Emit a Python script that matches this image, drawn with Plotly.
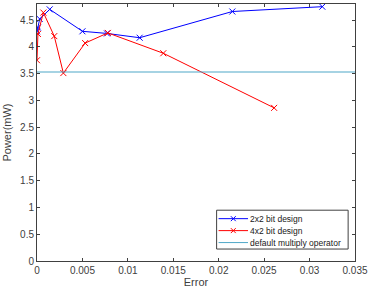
import plotly.graph_objects as go

# 2x2 bit design
err_2x2 = [0.0, 0.0001, 0.0003, 0.0014, 0.0050, 0.0077, 0.0113, 0.0215, 0.0314]
pow_2x2 = [4.29, 4.36, 4.52, 4.70, 4.29, 4.25, 4.17, 4.66, 4.75]

# 4x2 bit design
err_4x2 = [0.0, 0.0001, 0.0007, 0.0019, 0.0029, 0.0053, 0.0078, 0.0139, 0.0261]
pow_4x2 = [3.75, 4.24, 4.64, 4.20, 3.51, 4.07, 4.26, 3.88, 2.86]

# default multiply operator
default_power = 3.53
x_range = [0, 0.035]
y_range = [0, 4.8]

x_ticks = [0, 0.005, 0.01, 0.015, 0.02, 0.025, 0.03, 0.035]
x_tick_text = ["0", "0.005", "0.01", "0.015", "0.02", "0.025", "0.03", "0.035"]
y_ticks = [0, 0.5, 1, 1.5, 2, 2.5, 3, 3.5, 4, 4.5]
y_tick_text = ["0", "0.5", "1", "1.5", "2", "2.5", "3", "3.5", "4", "4.5"]

series_names = ["2x2 bit design", "4x2 bit design", "default multiply operator"]
series_colors = ["#0000ff", "#ff0000", "#4fa8c8"]

W, H = 371, 291
ML, MR, MT, MB = 37, 10, 3, 30
PW, PH = W - ML - MR, H - MT - MB

FONT = "Liberation Sans, Arial"

fig = go.Figure()
fig.add_trace(go.Scatter(
    x=err_2x2, y=pow_2x2, mode="lines+markers", name=series_names[0],
    line=dict(color=series_colors[0], width=1),
    marker=dict(symbol="x-thin", size=6, line=dict(color=series_colors[0], width=1)),
))
fig.add_trace(go.Scatter(
    x=err_4x2, y=pow_4x2, mode="lines+markers", name=series_names[1],
    line=dict(color=series_colors[1], width=1),
    marker=dict(symbol="x-thin", size=6, line=dict(color=series_colors[1], width=1)),
))
fig.add_trace(go.Scatter(
    x=x_range, y=[default_power, default_power], mode="lines",
    name=series_names[2],
    line=dict(color=series_colors[2], width=1.2),
))

axis_common = dict(
    showgrid=False, zeroline=False, ticks="inside", ticklen=3,
    tickcolor="#404040", showline=True, linecolor="#404040", linewidth=1,
    mirror="ticks", tickfont=dict(family=FONT, size=10, color="#404040"),
)
fig.update_xaxes(range=x_range, tickvals=x_ticks, ticktext=x_tick_text,
                 ticklabeloverflow="allow",
                 title=dict(text="Error", font=dict(family=FONT, size=11, color="#404040"), standoff=3),
                 **axis_common)
fig.update_yaxes(range=y_range, tickvals=y_ticks, ticktext=y_tick_text,
                 title=dict(text="Power(mW)", font=dict(family=FONT, size=11, color="#404040"), standoff=6),
                 **axis_common)

# Manual MATLAB-style legend (in axis-domain coordinates)
def fx(px):
    return (px - ML) / PW

def fy(py):
    return (MT + PH - py) / PH

box = dict(x0=fx(220), x1=fx(354), y0=fy(249), y1=fy(210))
fig.add_shape(type="rect", xref="x domain", yref="y domain", **box,
              line=dict(color="#404040", width=1), fillcolor="white", layer="above")
entry_y = [218.5, 230.5, 242.5]
for i, (name, col) in enumerate(zip(series_names, series_colors)):
    yy = fy(entry_y[i])
    fig.add_shape(type="line", xref="x domain", yref="y domain",
                  x0=fx(222), x1=fx(252), y0=yy, y1=yy,
                  line=dict(color=col, width=1), layer="above")
    if i < 2:
        dx, dy = 2.5 / PW, 2.5 / PH
        cx = fx(237)
        for s in (1, -1):
            fig.add_shape(type="line", xref="x domain", yref="y domain",
                          x0=cx - dx, x1=cx + dx, y0=yy - s * dy, y1=yy + s * dy,
                          line=dict(color=col, width=1), layer="above")
    fig.add_annotation(xref="x domain", yref="y domain", x=fx(253), y=yy,
                       text=name, showarrow=False, xanchor="left", yanchor="middle",
                       xshift=-1,
                       font=dict(family=FONT, size=8.5, color="#202020"))

fig.update_layout(
    width=W, height=H,
    margin=dict(l=ML, r=MR, t=MT, b=MB),
    plot_bgcolor="white", paper_bgcolor="white",
    showlegend=False,
)

fig.write_html("out.html")
